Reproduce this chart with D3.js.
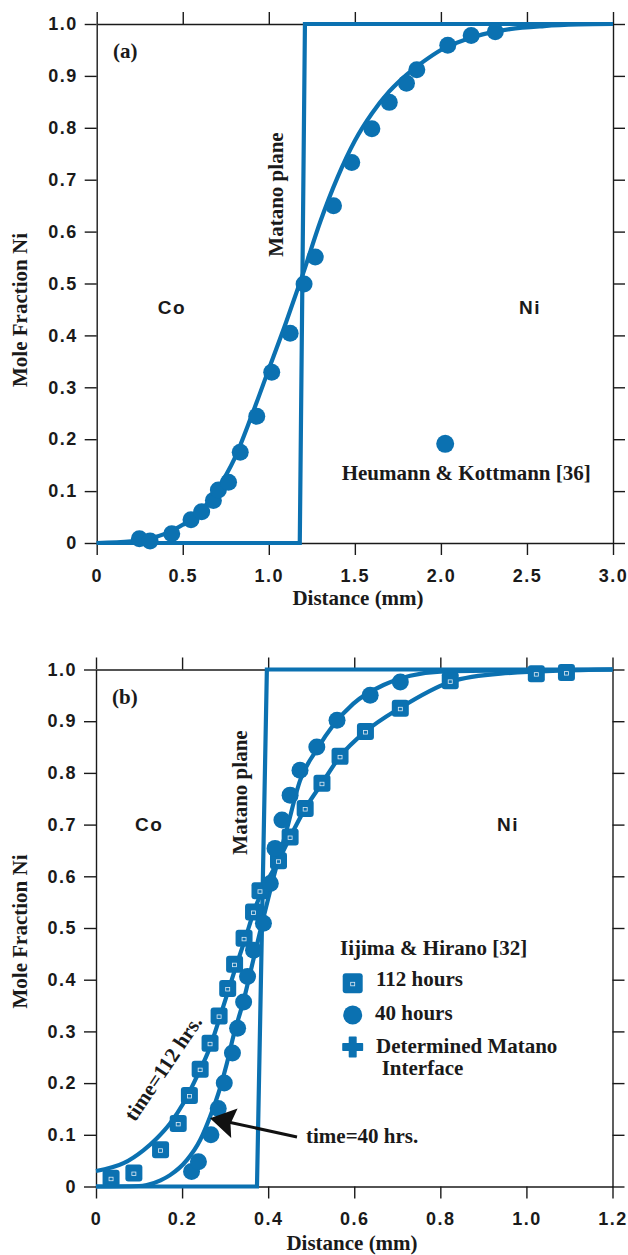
<!DOCTYPE html>
<html lang="en">
<head>
<meta charset="UTF-8">
<title>Co-Ni diffusion profiles</title>
<script src="https://d3js.org/d3.v7.min.js"></script>
<style>
body,html{margin:0;padding:0;background:#fff;}
.tick text{font-family:"Liberation Sans",Arial,sans-serif;font-weight:bold;font-size:18px;fill:#1a1a1a;letter-spacing:1.5px;}
.tick line,.domain{stroke:#1a1a1a;stroke-width:1.4px;}
.serif{font-family:"Liberation Serif","Times New Roman",serif;font-weight:bold;font-size:21px;fill:#1a1a1a;}
.sans{font-family:"Liberation Sans",Arial,sans-serif;font-weight:bold;font-size:19px;fill:#1a1a1a;letter-spacing:1.5px;}
</style>
</head>
<body>
<svg width="628" height="1255"></svg>
<script>
// ---- data, panel (a) ----
let aTicksX = [0, 0.5, 1.0, 1.5, 2.0, 2.5, 3.0];
let yTicks = [0, 0.1, 0.2, 0.3, 0.4, 0.5, 0.6, 0.7, 0.8, 0.9, 1.0];

let aStepX = [0, 1.18, 1.21, 3.0];
let aStepY = [0, 0, 1, 1];

let aCurveX = [0, 0.2, 0.3, 0.4, 0.5, 0.6, 0.7, 0.8, 0.9, 1.0, 1.1, 1.2, 1.3, 1.4, 1.5, 1.6, 1.7, 1.8, 1.9, 2.0, 2.2, 2.4, 2.6, 2.8, 3.0];
let aCurveY = [0, 0.003, 0.008, 0.018, 0.035, 0.06, 0.103, 0.162, 0.245, 0.335, 0.425, 0.52, 0.62, 0.705, 0.775, 0.828, 0.87, 0.902, 0.928, 0.95, 0.976, 0.99, 0.996, 0.999, 1.0];

let aDotsX = [0.248, 0.31, 0.436, 0.548, 0.61, 0.678, 0.707, 0.766, 0.834, 0.93, 1.017, 1.124, 1.205, 1.27, 1.376, 1.482, 1.599, 1.70, 1.80, 1.86, 2.04, 2.176, 2.316];
let aDotsY = [0.008, 0.004, 0.018, 0.045, 0.06, 0.082, 0.102, 0.117, 0.175, 0.244, 0.329, 0.404, 0.499, 0.551, 0.65, 0.733, 0.798, 0.849, 0.886, 0.912, 0.959, 0.978, 0.985];

// ---- data, panel (b) ----
let bTicksX = [0, 0.2, 0.4, 0.6, 0.8, 1.0, 1.2];

let bStepX = [0, 0.374, 0.397, 1.2];
let bStepY = [0, 0, 1, 1];

let b112CurveX = [0, 0.064, 0.11, 0.141, 0.172, 0.203, 0.234, 0.265, 0.288, 0.323, 0.347, 0.366, 0.385, 0.424, 0.451, 0.486, 0.525, 0.567, 0.626, 0.707, 0.823, 0.94, 1.2];
let b112CurveY = [0.03, 0.045, 0.07, 0.093, 0.122, 0.161, 0.212, 0.27, 0.328, 0.42, 0.48, 0.53, 0.57, 0.63, 0.676, 0.731, 0.78, 0.832, 0.88, 0.926, 0.976, 0.992, 1.0];

let b40CurveX = [0, 0.1, 0.118, 0.15, 0.172, 0.211, 0.242, 0.265, 0.288, 0.304, 0.319, 0.343, 0.366, 0.389, 0.41, 0.443, 0.474, 0.513, 0.552, 0.598, 0.668, 0.73, 0.8, 1.2];
let b40CurveY = [0, 0.001, 0.003, 0.012, 0.022, 0.051, 0.09, 0.135, 0.19, 0.238, 0.29, 0.36, 0.44, 0.52, 0.59, 0.69, 0.785, 0.845, 0.893, 0.934, 0.97, 0.988, 0.996, 1.0];

let b112X = [0.035, 0.088, 0.150, 0.191, 0.217, 0.242, 0.265, 0.286, 0.306, 0.322, 0.344, 0.366, 0.381, 0.424, 0.451, 0.486, 0.525, 0.567, 0.626, 0.707, 0.823, 1.023, 1.093];
let b112Y = [0.016, 0.026, 0.071, 0.122, 0.176, 0.227, 0.277, 0.33, 0.383, 0.43, 0.48, 0.531, 0.572, 0.63, 0.676, 0.731, 0.78, 0.832, 0.88, 0.925, 0.978, 0.992, 0.994];

let b40X = [0.222, 0.238, 0.267, 0.284, 0.298, 0.317, 0.329, 0.343, 0.352, 0.366, 0.389, 0.405, 0.416, 0.432, 0.451, 0.474, 0.513, 0.56, 0.637, 0.707];
let b40Y = [0.029, 0.048, 0.10, 0.151, 0.20, 0.258, 0.306, 0.357, 0.406, 0.457, 0.509, 0.586, 0.654, 0.709, 0.757, 0.805, 0.85, 0.902, 0.95, 0.976];

let blue = "#0b71b1";
let svg = d3.select("svg");

let fmt = v => v === 0 ? "0" : d3.format(".1f")(v);

function drawAxes(g, x, y, xt) {
  let [y0, y1] = y.range();
  let [x0, x1] = x.range();
  g.append("g").attr("transform", `translate(0,${y0})`)
    .call(d3.axisBottom(x).tickValues(xt).tickFormat(fmt).tickSize(12).tickPadding(14).tickSizeOuter(0));
  g.append("g").attr("transform", `translate(0,${y1})`)
    .call(d3.axisTop(x).tickValues(xt).tickFormat("").tickSize(12).tickSizeOuter(0));
  g.append("g").attr("transform", `translate(${x0},0)`)
    .call(d3.axisLeft(y).tickValues(yTicks).tickFormat(fmt).tickSize(12).tickPadding(7).tickSizeOuter(0));
  g.append("g").attr("transform", `translate(${x1},0)`)
    .call(d3.axisRight(y).tickValues(yTicks).tickFormat("").tickSize(12).tickSizeOuter(0));
}

function lineOf(x, y, curve) {
  return d3.line().x(d => x(d[0])).y(d => y(d[1])).curve(curve);
}

function drawPath(g, data, gen) {
  g.append("path").datum(data)
    .attr("d", gen).attr("fill", "none").attr("stroke", blue)
    .attr("stroke-width", 4.2).attr("stroke-linejoin", "miter");
}

function squareMark(g, cx, cy, s) {
  g.append("rect").attr("x", cx - s / 2).attr("y", cy - s / 2).attr("width", s).attr("height", s)
    .attr("rx", 3).attr("fill", blue);
  g.append("rect").attr("x", cx - 2).attr("y", cy - 1).attr("width", 4).attr("height", 3.5)
    .attr("fill", "none").attr("stroke", "#dfeaf3").attr("stroke-width", 0.8);
}

// ---------------- panel (a) ----------------
let ga = svg.append("g");
let xa = d3.scaleLinear().domain([0, 3]).range([96.7, 613]);
let ya = d3.scaleLinear().domain([0, 1]).range([543, 24]);

drawAxes(ga, xa, ya, aTicksX);
drawPath(ga, d3.zip(aStepX, aStepY), lineOf(xa, ya, d3.curveLinear));
drawPath(ga, d3.zip(aCurveX, aCurveY), lineOf(xa, ya, d3.curveMonotoneX));

ga.selectAll("circle.pt").data(d3.zip(aDotsX, aDotsY)).enter()
  .append("circle").attr("class", "pt")
  .attr("cx", d => xa(d[0])).attr("cy", d => ya(d[1])).attr("r", 8.5).attr("fill", blue);

// legend dot
ga.append("circle").attr("cx", xa(2.025)).attr("cy", ya(0.191)).attr("r", 9).attr("fill", blue);

ga.append("text").attr("class", "serif").attr("x", 113).attr("y", 58).text("(a)");
ga.append("text").attr("class", "serif").attr("text-anchor", "middle")
  .attr("transform", "translate(283,194.5) rotate(-90)").text("Matano plane");
ga.append("text").attr("class", "sans").attr("x", 157.7).attr("y", 313.5).text("Co");
ga.append("text").attr("class", "sans").attr("x", 519).attr("y", 313.5).text("Ni");
ga.append("text").attr("class", "serif").attr("x", 341.7).attr("y", 480).text("Heumann & Kottmann [36]");
ga.append("text").attr("class", "serif").attr("text-anchor", "middle")
  .attr("transform", "translate(27,310) rotate(-90)").text("Mole Fraction Ni");
ga.append("text").attr("class", "serif").attr("text-anchor", "middle")
  .attr("x", 358).attr("y", 605).text("Distance (mm)");

// ---------------- panel (b) ----------------
let gb = svg.append("g");
let xb = d3.scaleLinear().domain([0, 1.2]).range([96, 612.5]);
let yb = d3.scaleLinear().domain([0, 1]).range([1186.5, 669.5]);

drawAxes(gb, xb, yb, bTicksX);
drawPath(gb, d3.zip(bStepX, bStepY), lineOf(xb, yb, d3.curveLinear));
drawPath(gb, d3.zip(b112CurveX, b112CurveY), lineOf(xb, yb, d3.curveMonotoneX));
drawPath(gb, d3.zip(b40CurveX, b40CurveY), lineOf(xb, yb, d3.curveMonotoneX));

d3.zip(b112X, b112Y).forEach(d => squareMark(gb, xb(d[0]), yb(d[1]), 17));

gb.selectAll("circle.pt").data(d3.zip(b40X, b40Y)).enter()
  .append("circle").attr("class", "pt")
  .attr("cx", d => xb(d[0])).attr("cy", d => yb(d[1])).attr("r", 8.5).attr("fill", blue);

gb.append("text").attr("class", "serif").attr("x", 112).attr("y", 704).text("(b)");
gb.append("text").attr("class", "serif").attr("text-anchor", "middle")
  .attr("transform", "translate(246.5,792.5) rotate(-90)").text("Matano plane");
gb.append("text").attr("class", "sans").attr("x", 135).attr("y", 831).text("Co");
gb.append("text").attr("class", "sans").attr("x", 497).attr("y", 830.5).text("Ni");
gb.append("text").attr("class", "serif").attr("text-anchor", "middle")
  .attr("transform", "translate(27,931.5) rotate(-90)").text("Mole Fraction Ni");
gb.append("text").attr("class", "serif").attr("text-anchor", "middle")
  .attr("x", 352).attr("y", 1250).text("Distance (mm)");

// legend
gb.append("text").attr("class", "serif").attr("x", 340).attr("y", 955).text("Iijima & Hirano [32]");
squareMark(gb, 352.7, 983.3, 20);
gb.append("text").attr("class", "serif").attr("x", 376).attr("y", 986).text("112 hours");
gb.append("circle").attr("cx", 352.7).attr("cy", 1015).attr("r", 9.5).attr("fill", blue);
gb.append("text").attr("class", "serif").attr("x", 375).attr("y", 1020).text("40 hours");
gb.append("path").attr("d", d3.symbol(d3.symbolCross, 210)())
  .attr("transform", "translate(352.7,1047)").attr("fill", blue)
  .attr("stroke", blue).attr("stroke-width", 1.5).attr("stroke-linejoin", "round");
gb.append("text").attr("class", "serif").attr("x", 376).attr("y", 1053).text("Determined Matano");
gb.append("text").attr("class", "serif").attr("x", 381.7).attr("y", 1075).text("Interface");

// annotations
gb.append("text").attr("class", "serif").attr("x", 306).attr("y", 1143).text("time=40 hrs.");
gb.append("line").attr("x1", 297).attr("y1", 1137).attr("x2", 228).attr("y2", 1122)
  .attr("stroke", "#111").attr("stroke-width", 3);
gb.append("path").attr("d", "M210,1118.3 L237.6,1108.6 L230.5,1123.8 L231.2,1138 Z").attr("fill", "#111");
gb.append("text").attr("class", "serif").attr("text-anchor", "middle")
  .attr("transform", "translate(169,1072) rotate(-56)").text("time=112 hrs.");
</script>
</body>
</html>
